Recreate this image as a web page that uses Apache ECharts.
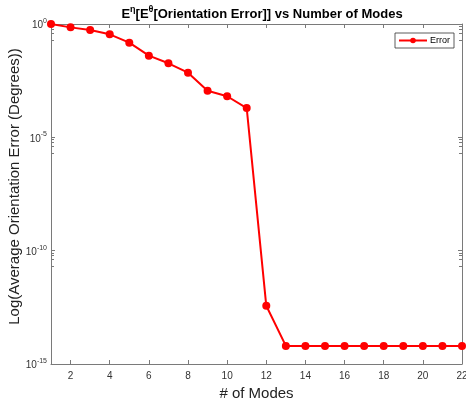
<!DOCTYPE html>
<html>
<head>
<meta charset="utf-8">
<script src="https://cdn.jsdelivr.net/npm/echarts@6/dist/echarts.min.js"></script>
<style>
  html, body { margin: 0; padding: 0; background: #fff; }
  #chart { width: 466px; height: 404px; }
</style>
</head>
<body>
<div id="chart"></div>
<script>
// Number of modes and the averaged orientation error for each
const modes = [1, 2, 3, 4, 5, 6, 7, 8, 9, 10, 11, 12, 13, 14, 15, 16, 17, 18, 19, 20, 21, 22];
const errorValues = [1.0, 0.71, 0.54, 0.35, 0.15, 0.040, 0.0185, 0.0071, 0.00114, 0.00065, 0.000196,
  3.7e-13, 6.3e-15, 6.3e-15, 6.3e-15, 6.3e-15, 6.3e-15, 6.3e-15, 6.3e-15, 6.3e-15, 6.3e-15, 6.3e-15];
const xTicks = [2, 4, 6, 8, 10, 12, 14, 16, 18, 20, 22];

const FONT = 'Liberation Sans, Arial, Helvetica, sans-serif';
const AXIS_GREY = '#7a7a7a';
const LABEL_GREY = '#333333';

function powerLabel(v) {
  const e = Math.round(Math.log10(v));
  return '{b|10}{s|' + e + '}';
}

const chart = echarts.init(document.getElementById('chart'), null, { renderer: 'canvas' });

const frameX = {
  type: 'value', min: 1, max: 22,
  axisLine: { show: true, lineStyle: { color: AXIS_GREY, width: 1 } },
  axisTick: { show: true, inside: true, length: 4, customValues: xTicks, lineStyle: { color: AXIS_GREY } },
  splitLine: { show: false }
};
const frameY = {
  type: 'log', logBase: 10, min: 1e-15, max: 1, interval: 5,
  axisLine: { show: true, lineStyle: { color: AXIS_GREY, width: 1 } },
  axisTick: { show: true, inside: true, length: 4, lineStyle: { color: AXIS_GREY } },
  minorTick: { show: true, splitNumber: 5, length: 3, lineStyle: { color: AXIS_GREY } },
  splitLine: { show: false }
};

chart.setOption({
  animation: false,
  backgroundColor: '#ffffff',
  textStyle: { fontFamily: FONT },
  title: {
    text: '{n|E}{s|η}{n|[E}{s|θ}{n|[Orientation Error]] vs Number of Modes}',
    left: 257, top: 0, textAlign: 'center',
    textStyle: {
      rich: {
        n: { fontFamily: FONT, fontSize: 13, fontWeight: 'bold', color: '#000', verticalAlign: 'bottom', lineHeight: 16 },
        s: { fontFamily: FONT, fontSize: 9, fontWeight: 'bold', color: '#000', verticalAlign: 'top', padding: [0, 0, 8, 0], lineHeight: 10 }
      }
    }
  },
  legend: {
    right: 12, top: 33,
    orient: 'vertical',
    itemWidth: 28, itemHeight: 7, itemGap: 0,
    padding: [3, 4, 3, 3],
    borderColor: '#333', borderWidth: 0.8, backgroundColor: '#fff',
    textStyle: { fontSize: 9, color: '#000', fontFamily: FONT, padding: [0, 0, 0, -2] },
    data: ['Error']
  },
  grid: { left: 51, right: 4, top: 24, bottom: 40, containLabel: false, outerBoundsMode: 'none' },
  xAxis: [
    Object.assign({}, frameX, {
      position: 'bottom',
      name: '# of Modes', nameLocation: 'middle', nameGap: 22,
      nameTextStyle: { fontSize: 15, color: '#222', fontFamily: FONT },
      axisLabel: { show: true, customValues: xTicks, fontSize: 10, color: LABEL_GREY, margin: 7, fontFamily: FONT }
    }),
    Object.assign({}, frameX, { position: 'top', axisLabel: { show: false } })
  ],
  yAxis: [
    Object.assign({}, frameY, {
      position: 'left',
      name: 'Log(Average Orientation Error (Degrees))', nameLocation: 'middle', nameGap: 29,
      nameMoveOverlap: false,
      nameTextStyle: { fontSize: 15, color: '#222', fontFamily: FONT, padding: [0, 0, 0, 15] },
      axisLabel: {
        show: true, margin: 4, formatter: powerLabel,
        rich: {
          b: { fontSize: 10, color: LABEL_GREY, fontFamily: FONT, verticalAlign: 'bottom' },
          s: { fontSize: 7, color: LABEL_GREY, fontFamily: FONT, verticalAlign: 'top', padding: [0, 0, 6, 0] }
        }
      }
    }),
    Object.assign({}, frameY, { position: 'right', axisLabel: { show: false } })
  ],
  series: [{
    name: 'Error',
    type: 'line',
    xAxisIndex: 0, yAxisIndex: 0,
    data: modes.map((m, i) => [m, errorValues[i]]),
    symbol: 'circle', symbolSize: 8,
    lineStyle: { color: '#ff0000', width: 2 },
    itemStyle: { color: '#ff0000' },
    clip: false
  }]
});
</script>
</body>
</html>
